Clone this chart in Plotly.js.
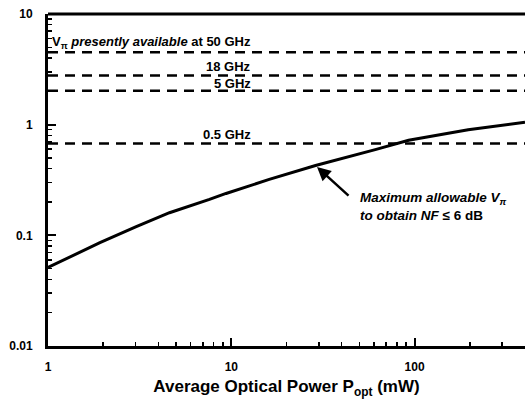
<!DOCTYPE html>
<html><head><meta charset="utf-8">
<script src="https://cdn.plot.ly/plotly-3.0.1.min.js"></script>
<style>html,body{margin:0;padding:0;background:#fff}#c{width:525px;height:399px}</style>
</head><body><div id="c"></div>
<script>
// Maximum allowable V_pi curve
const power = [1, 1.92, 3.03, 4.6, 7.6, 9.36, 16.1, 17.9, 28.8, 61, 92.7, 196, 400];
const vpiMax = [0.0512, 0.0859, 0.1197, 0.160, 0.211, 0.239, 0.32, 0.338, 0.428, 0.595, 0.723, 0.90, 1.05];
// Presently available V_pi levels
const levelNames = ["V<sub>π</sub> <i>presently available</i> at 50 GHz", "18 GHz", "5 GHz", "0.5 GHz"];
const levelValues = [4.52, 2.78, 2.02, 0.675];
const xRange = [1, 400];
const xTickVals = [1, 10, 100];
const xTickText = ["1", "10", "100"];
const yTickVals = [0.01, 0.1, 1, 10];
const yTickText = ["0.01", "0.1", "1", "10"];

const minorX = [], minorY = [];
for (let d of [1, 10, 100]) for (let k = 2; k <= 9; k++) if (d*k <= 400) minorX.push(d*k);
for (let d of [0.01, 0.1, 1]) for (let k = 2; k <= 9; k++) minorY.push(d*k);

const traces = [];
levelValues.forEach((v) => {
  traces.push({x: xRange, y: [v, v], mode: 'lines', line: {color: '#000', width: 2.5, dash: '10px,7px'}, hoverinfo: 'skip'});
});
traces.push({x: power, y: vpiMax, mode: 'lines', line: {color: '#000', width: 3}, hoverinfo: 'skip'});

const fam = 'Liberation Sans, Arial, sans-serif';
const font = {family: fam, size: 12, color: '#000', weight: 'bold'};
const labelFont = {family: fam, size: 13, color: '#000', weight: 'bold'};
const labelY = [0.747, 0.530, 0.368, -0.093];
const annotations = levelNames.map((t, i) => ({
  x: 1.118, y: labelY[i], xref: 'x', yref: 'y', text: t, showarrow: false,
  xanchor: 'right', yanchor: 'middle', font: labelFont
}));
annotations.push({x: 1.4676, y: -0.382, xref: 'x', yref: 'y', text: '', showarrow: true,
  ax: 33, ay: 30, arrowhead: 2, arrowsize: 1.1, arrowwidth: 2.5, arrowcolor: '#000'});
annotations.push({x: 1.691, y: -0.735, xref: 'x', yref: 'y',
  text: '<i>Maximum allowable V<sub>π</sub></i><br><i>to obtain NF</i> ≤ 6 dB', showarrow: false,
  xanchor: 'left', yanchor: 'middle', align: 'left', font: {family: fam, size: 13.5, color: '#000', weight: 'bold'}});

const layout = {
  width: 525, height: 399,
  margin: {l: 48, r: 0, t: 14, b: 53},
  paper_bgcolor: '#fff', plot_bgcolor: '#fff',
  showlegend: false,
  xaxis: {
    type: 'log', range: [0, Math.log10(400)],
    tickmode: 'array', tickvals: xTickVals, ticktext: xTickText,
    ticks: 'inside', ticklen: 8, tickwidth: 2, tickcolor: '#000',
    minor: {tickvals: minorX, ticks: 'inside', ticklen: 4, tickwidth: 1.5, tickcolor: '#000'},
    showline: true, linewidth: 3, linecolor: '#000', showgrid: false, zeroline: false,
    tickfont: font, ticklabelstandoff: 8,
    title: {text: 'Average Optical Power P<sub>opt</sub> (mW)', font: {family: fam, size: 17, color: '#000', weight: 'bold'}, standoff: 8}
  },
  yaxis: {
    type: 'log', range: [-2, 1],
    tickmode: 'array', tickvals: yTickVals, ticktext: yTickText,
    ticks: 'inside', ticklen: 8, tickwidth: 2, tickcolor: '#000',
    minor: {tickvals: minorY, ticks: 'inside', ticklen: 4, tickwidth: 1.5, tickcolor: '#000'},
    showline: true, linewidth: 3, linecolor: '#000', showgrid: false, zeroline: false,
    tickfont: font, ticklabelstandoff: 10
  },
  shapes: [{type: 'line', xref: 'paper', yref: 'paper', x0: 0, x1: 1, y0: 1, y1: 1, line: {color: '#000', width: 3}}],
  annotations: annotations
};
Plotly.newPlot('c', traces, layout, {staticPlot: true, displayModeBar: false});
</script></body></html>
